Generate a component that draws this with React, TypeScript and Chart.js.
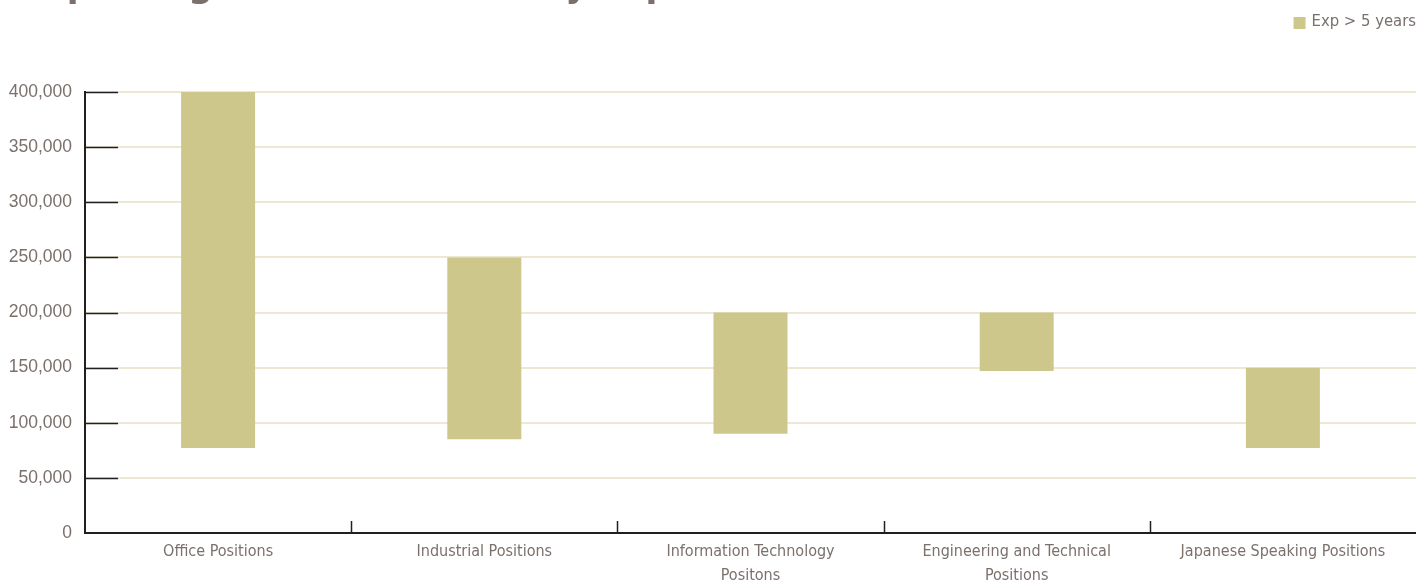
import React, { useEffect, useRef } from "react";
import { Chart, registerables } from "chart.js";

Chart.register(...registerables);

const TITLE = "Expecting Annual Salaries by Experience";
const SERIES_LABEL = "Exp > 5 years";
const CATEGORIES: (string | string[])[] = [
  "Office Positions",
  "Industrial Positions",
  ["Information Technology", "Positons"],
  ["Engineering and Technical", "Positions"],
  "Japanese Speaking Positions",
];
const LOW_VALUES = [77000, 85000, 90000, 147000, 77000];
const HIGH_VALUES = [400000, 250000, 200000, 200000, 150000];
const Y_MAX = 400000;
const Y_STEP = 50000;

const TEXT = "#7a706c";
const BAR = "#cec78b";
const GRID = "#ece8d3";
const AXIS = "#231f20";
const LABEL_FONT = "'DejaVu Sans Condensed', 'DejaVu Sans', sans-serif";

const decorPlugin = {
  id: "decor",
  afterDraw(chart: any) {
    const ctx = chart.ctx;
    const { left, bottom } = chart.chartArea;
    const y = chart.scales.y;
    const x = chart.scales.x;
    ctx.save();
    // inward y tick marks
    ctx.strokeStyle = AXIS;
    ctx.lineWidth = 1.5;
    y.ticks.forEach((t: any) => {
      if (t.value === 0) return;
      const py = Math.round(y.getPixelForValue(t.value)) + 0.5;
      ctx.beginPath();
      ctx.moveTo(left, py);
      ctx.lineTo(left + 33, py);
      ctx.stroke();
    });
    // category boundary marks on x axis
    for (let i = 1; i < CATEGORIES.length; i++) {
      const px = Math.round((x.getPixelForValue(i - 1) + x.getPixelForValue(i)) / 2) + 0.5;
      ctx.beginPath();
      ctx.moveTo(px, bottom - 12);
      ctx.lineTo(px, bottom);
      ctx.stroke();
    }
    // legend (top right)
    const ds = chart.data.datasets[0];
    ctx.font = "16.5px " + LABEL_FONT;
    ctx.textBaseline = "middle";
    ctx.textAlign = "right";
    const right = chart.width;
    const tw = ctx.measureText(ds.label).width;
    ctx.fillStyle = TEXT;
    ctx.fillText(ds.label, right, 22);
    ctx.fillStyle = ds.backgroundColor;
    ctx.fillRect(right - tw - 18, 17, 12, 12);
    // title, mostly above the visible area
    ctx.fillStyle = TEXT;
    ctx.font = "bold 34.5px 'DejaVu Sans', sans-serif";
    ctx.textBaseline = "alphabetic";
    ctx.textAlign = "left";
    ctx.fillText(TITLE, 21, -3);
    ctx.restore();
  },
};

export default function App() {
  const ref = useRef<HTMLCanvasElement | null>(null);
  useEffect(() => {
    document.body.style.margin = "0";
    const chart = new Chart(ref.current as HTMLCanvasElement, {
      type: "bar",
      data: {
        labels: CATEGORIES,
        datasets: [
          {
            label: SERIES_LABEL,
            data: LOW_VALUES.map((lo, i) => [lo, HIGH_VALUES[i]]),
            backgroundColor: BAR,
            borderWidth: 0,
            barPercentage: 0.278,
            categoryPercentage: 1,
          },
        ],
      },
      options: {
        animation: false,
        responsive: false,
        layout: { padding: { top: 92, right: 0, left: 0, bottom: 0 } },
        plugins: {
          legend: { display: false },
          tooltip: { enabled: false },
        },
        scales: {
          x: {
            afterFit: (s: any) => {
              s.height = 51;
            },
            grid: { display: false, drawTicks: false },
            border: { color: AXIS, width: 2 },
            ticks: {
              color: TEXT,
              padding: 7,
              maxRotation: 0,
              autoSkip: false,
              font: { family: LABEL_FONT, size: 16, lineHeight: 1.5 },
            },
          },
          y: {
            min: 0,
            max: Y_MAX,
            afterFit: (s: any) => {
              s.width = 85;
            },
            grid: { color: GRID, lineWidth: 2, drawTicks: false },
            border: { color: AXIS, width: 2 },
            ticks: {
              stepSize: Y_STEP,
              color: TEXT,
              padding: 13,
              font: { family: "'Liberation Sans', Arial, sans-serif", size: 17.5 },
              callback: (v: any) => Number(v).toLocaleString("en-US"),
            },
          },
        },
      },
      plugins: [decorPlugin],
    });
    return () => chart.destroy();
  }, []);
  return (
    <div style={{ position: "fixed", left: 0, top: 0, width: 1416, height: 584 }}>
      <canvas ref={ref} width={1416} height={584} />
    </div>
  );
}
